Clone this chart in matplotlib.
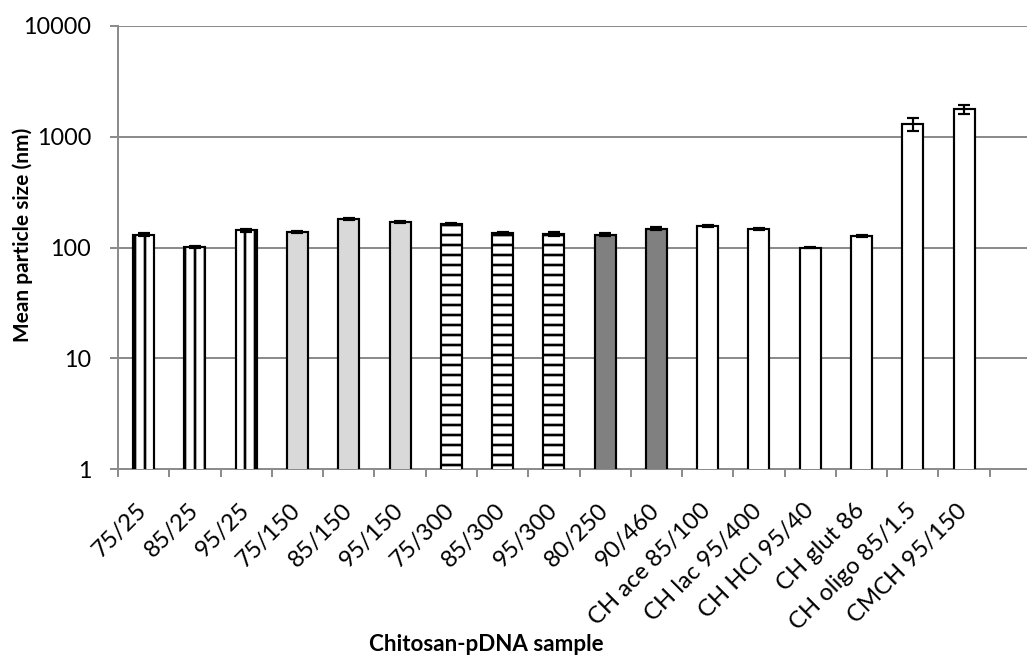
"""
Mean particle size of chitosan-pDNA complexes (log scale bar chart)
"""
import matplotlib
matplotlib.use('Agg')
import matplotlib.pyplot as plt
import matplotlib.ticker as mticker
import numpy as np

plt.rcParams['font.family'] = ['Lato', 'DejaVu Sans']
plt.rcParams['hatch.linewidth'] = 1.6

# data
samples = ['75/25', '85/25', '95/25', '75/150', '85/150', '95/150',
           '75/300', '85/300', '95/300', '80/250', '90/460',
           'CH ace 85/100', 'CH lac 95/400', 'CH HCl 95/40', 'CH glut 86',
           'CH oligo 85/1.5', 'CMCH 95/150']
mean_size = [130, 101, 143, 139, 180, 170, 163, 134, 133, 131, 148,
             157, 147, 100, 128, 1300, 1770]
size_err = [4, 3, 4, 3, 4, 4, 4, 5, 5, 3, 4, 3, 3, 2, 3, 180, 150]
y_ticks = [1, 10, 100, 1000, 10000]

# bar styles per group
fills = ['white'] * 3 + ['#D9D9D9'] * 3 + ['white'] * 3 + ['#808080'] * 2 + ['white'] * 6
hatches = ['||'] * 3 + [''] * 3 + ['--'] * 3 + [''] * 8

DPI = 120
fig = plt.figure(figsize=(1027 / DPI, 664 / DPI), dpi=DPI)
# plot area is clipped on the right in the original (one empty slot)
ax = fig.add_axes([118 / 1027, 1 - 469 / 664, 923 / 1027, 443 / 664])

x = np.arange(len(samples))
for i in range(len(samples)):
    ax.bar(x[i], mean_size[i], width=0.41, color=fills[i], edgecolor='black',
           linewidth=1.3, hatch=hatches[i], zorder=3)
ax.errorbar(x, mean_size, yerr=size_err, fmt='none', ecolor='black',
            elinewidth=1.3, capsize=3.5, capthick=1.3, zorder=4)

ax.set_yscale('log')
ax.set_ylim(1, 10000)
ax.set_xlim(-0.5, len(samples) + 0.5)
ax.set_yticks(y_ticks)
ax.yaxis.set_major_formatter(mticker.FuncFormatter(lambda v, p: f'{v:g}'))
ax.yaxis.set_minor_locator(mticker.NullLocator())
ax.grid(axis='y', color='#8C8C8C', linewidth=1.2)
ax.set_axisbelow(True)

# category boundary ticks + labels at bar centres
ax.set_xticks(x)
ax.set_xticklabels(samples, rotation=45, ha='right', va='center',
                   rotation_mode='anchor', fontsize=14.3)
ax.set_xticks(np.arange(-0.5, len(samples) + 1), minor=True)
ax.tick_params(axis='x', which='major', length=0, pad=23)
ax.tick_params(axis='x', which='minor', length=5, width=1.2, color='#8C8C8C', direction='out')
ax.tick_params(axis='y', length=5, width=1.2, color='#8C8C8C', labelsize=14, pad=11)

for side in ['top', 'right']:
    ax.spines[side].set_visible(False)
for side in ['left', 'bottom']:
    ax.spines[side].set_color('#8C8C8C')
    ax.spines[side].set_linewidth(1.2)

ax.set_ylabel('Mean particle size (nm)', fontsize=12.5, fontweight='bold')
ax.yaxis.set_label_coords(-0.092, 0.528)
ax.set_xlabel('Chitosan-pDNA sample', fontsize=13.4, fontweight='bold')
ax.xaxis.set_label_coords(0.399, -0.373)

fig.savefig('out.png', dpi=DPI, facecolor='white')
plt.close(fig)
